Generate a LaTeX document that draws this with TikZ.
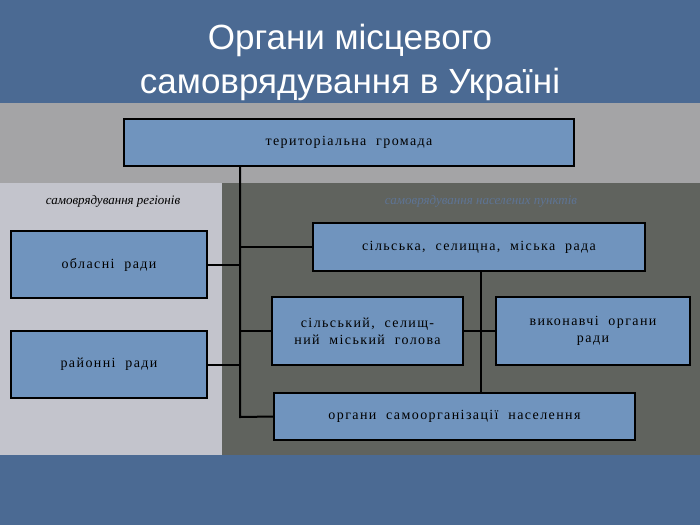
\documentclass[tikz,border=0pt]{standalone}
\usepackage{fontspec}
\setmainfont{Liberation Serif}
\newfontfamily\titlefont{Liberation Sans}
\newfontfamily\boxfont[LetterSpace=10,WordSpace=2]{Liberation Serif}
\definecolor{bgblue}{HTML}{4B6A93}
\definecolor{band}{HTML}{A4A4A6}
\definecolor{lpanel}{HTML}{C3C4CC}
\definecolor{rpanel}{HTML}{60635E}
\definecolor{boxfill}{HTML}{7094BE}
\definecolor{faint}{HTML}{5E7494}
\begin{document}
\begin{tikzpicture}[x=1pt,y=-1pt,
  bx/.style={draw=black,line width=2.2pt,fill=boxfill,inner sep=0pt,align=center,font=\boxfont\fontsize{14}{17}\selectfont},
  ln/.style={line width=2pt}]
\fill[bgblue] (0,0) rectangle (700,525);
\fill[band] (0,103) rectangle (700,183);
\fill[lpanel] (0,183) rectangle (222,455);
\fill[rpanel] (222,183) rectangle (700,455);
\node[white,align=center,font=\titlefont\fontsize{35}{44}\selectfont] (title) at (350,62) {Органи місцевого\\самоврядування в Україні};
\node[font=\itshape\fontsize{13}{15}\selectfont] (l1) at (113,201) {самоврядування регіонів};
\node[font=\itshape\fontsize{13}{15}\selectfont,text=faint] (l2) at (481,201) {самоврядування населених пунктів};
\node[bx,minimum width=450,minimum height=47] (tg) at (349,142.5) {територіальна громада};
\node[bx,minimum width=196,minimum height=67] (ob) at (109,264.5) {обласні ради};
\node[bx,minimum width=196,minimum height=67] (ra) at (109,364.5) {районні ради};
\node[bx,minimum width=332,minimum height=48] (sr) at (479,247) {сільська, селищна, міська рада};
\node[bx,minimum width=191,minimum height=68] (hg) at (367.5,331) {сільський, селищ-\\ний міський голова};
\node[bx,minimum width=194,minimum height=68] (vo) at (593,331) {виконавчі органи\\ради};
\node[bx,minimum width=361,minimum height=47] (os) at (454.5,416.5) {органи самоорганізації населення};
\coordinate (t0) at (240,166);
\coordinate (t1) at (240,417);
\draw[ln] (t0) -- (t1) -- (os.west);
\draw[ln] (ob.east) -- (240,264.5);
\draw[ln] (ra.east) -- (240,364.5);
\draw[ln] (240,247) -- (sr.west);
\draw[ln] (240,331) -- (hg.west);
\draw[ln] (481,271) -- (481,393);
\draw[ln] (hg.east) -- (vo.west);
\end{tikzpicture}
\end{document}
